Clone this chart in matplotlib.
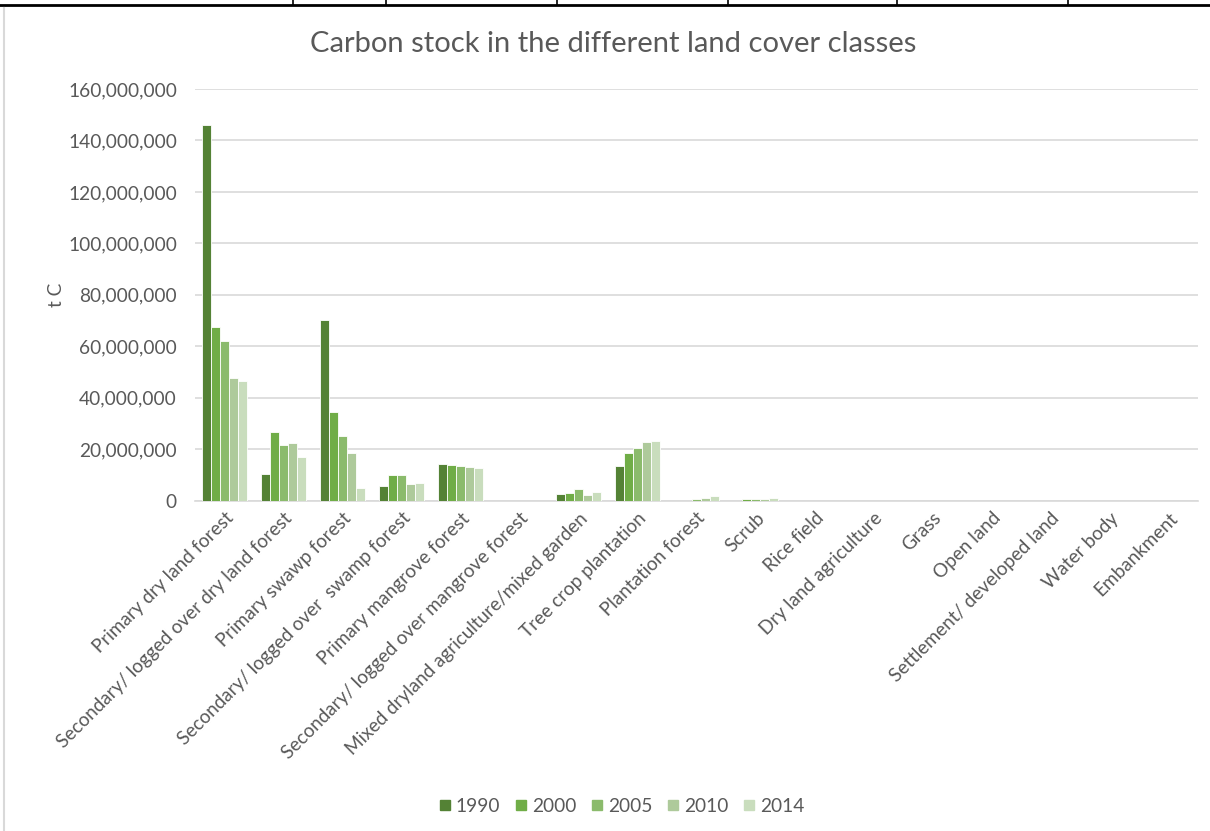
import matplotlib.pyplot as plt
import numpy as np
from matplotlib.lines import Line2D
from matplotlib.ticker import FuncFormatter

plt.rcParams['font.family'] = ['Lato', 'DejaVu Sans']

classes = [
    "Primary dry land forest",
    "Secondary/ logged over dry land forest",
    "Primary swawp forest",
    "Secondary/ logged over  swamp forest",
    "Primary mangrove forest",
    "Secondary/ logged over mangrove forest",
    "Mixed dryland agriculture/mixed garden",
    "Tree crop plantation",
    "Plantation forest",
    "Scrub",
    "Rice field",
    "Dry land agriculture",
    "Grass",
    "Open land",
    "Settlement/ developed land",
    "Water body",
    "Embankment",
]
years = ["1990", "2000", "2005", "2010", "2014"]

# carbon stock, t C
c1990 = [145_900_000, 10_400_000, 70_100_000, 5_500_000, 14_200_000, 0, 2_600_000, 13_500_000,
         0, 0, 0, 0, 0, 0, 0, 0, 0]
c2000 = [67_600_000, 26_600_000, 34_300_000, 9_800_000, 13_900_000, 0, 3_000_000, 18_600_000,
         0, 500_000, 0, 0, 0, 0, 0, 0, 0]
c2005 = [62_100_000, 21_500_000, 25_000_000, 9_800_000, 13_500_000, 0, 4_400_000, 20_300_000,
         500_000, 500_000, 0, 0, 0, 0, 0, 0, 0]
c2010 = [47_600_000, 22_400_000, 18_600_000, 6_400_000, 12_900_000, 0, 2_200_000, 22_900_000,
         800_000, 400_000, 0, 0, 0, 0, 0, 0, 0]
c2014 = [46_300_000, 16_800_000, 5_000_000, 6_800_000, 12_500_000, 0, 3_500_000, 23_300_000,
         1_600_000, 900_000, 0, 0, 0, 0, 0, 0, 0]

series = [c1990, c2000, c2005, c2010, c2014]
colors = ["#548235", "#70AD47", "#8BBB6C", "#AECA9B", "#C9DDBD"]
text_col = "#595959"

fig = plt.figure(figsize=(12.1, 8.31), dpi=100)
ax = fig.add_axes([0.1612, 0.3977, 0.8290, 0.4952])

x = np.arange(len(classes))
w = 0.155
for i, (vals, col, yr) in enumerate(zip(series, colors, years)):
    ax.bar(x + (i - 2) * w, vals, width=w, color=col, edgecolor="white",
           linewidth=0.6, label=yr, zorder=3)

ax.set_xlim(-0.5, len(classes) - 0.5)
ax.set_ylim(0, 160_000_000)
ax.set_yticks(np.arange(0, 160_000_001, 20_000_000))
ax.yaxis.set_major_formatter(FuncFormatter(lambda v, p: f"{int(v):,}"))
ax.grid(axis="y", color="#D9D9D9", linewidth=1.2, zorder=0)
for s in ["top", "right", "left"]:
    ax.spines[s].set_visible(False)
ax.spines["bottom"].set_color("#D9D9D9")
ax.spines["bottom"].set_linewidth(1.2)
ax.tick_params(axis="both", length=0, colors=text_col)
ax.tick_params(axis="y", pad=13, labelsize=13.8)
ax.tick_params(axis="x", labelsize=13.6)
ax.set_xticks(x)
ax.set_xticklabels(classes, rotation=45, ha="right", rotation_mode="anchor")
for lab in ax.get_xticklabels():
    lab.set_y(-0.01)
ax.set_ylabel("t C", color=text_col, fontsize=13.8)
ax.yaxis.set_label_coords(-0.13, 0.5)

fig.text(0.507, 0.947, "Carbon stock in the different land cover classes",
         ha="center", va="center", fontsize=21, color=text_col)

handles = [Line2D([], [], marker="s", linestyle="none", markersize=7.5, color=c) for c in colors]
fig.legend(handles, years, loc="center", bbox_to_anchor=(0.514, 0.030), ncol=5,
           frameon=False, fontsize=13.8, handletextpad=0.25, columnspacing=0.8,
           labelcolor=text_col, handlelength=0.6)

# frame lines around the chart area
fig.add_artist(Line2D([0, 1], [0.9945, 0.9945], color="black", linewidth=2))
for xv in [293, 386, 557, 728, 897, 1068]:
    fig.add_artist(Line2D([xv / 1210, xv / 1210], [0.9945, 1.0], color="black", linewidth=1.2))
fig.add_artist(Line2D([0.0037, 0.0037], [0, 0.99], color="#D9D9D9", linewidth=1.5))

fig.savefig("out.png", dpi=100)
